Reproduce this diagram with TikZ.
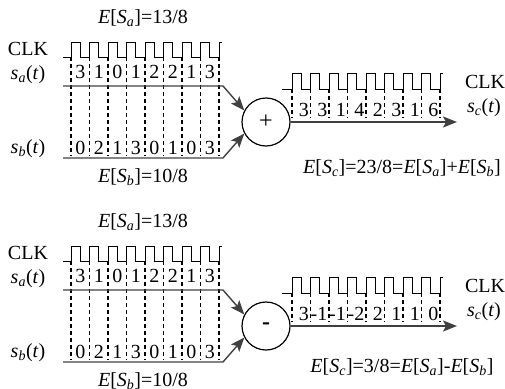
\documentclass[tikz,border=0pt]{standalone}
\usepackage{fontspec}
\setmainfont{Liberation Serif}
\usetikzlibrary{arrows.meta}
\newcommand\sigl[1]{\textit{s}\textsubscript{\textit{#1}}(\textit{t})}
\newcommand\expt[1]{\textit{E}[\textit{S}\textsubscript{\textit{#1}}]}
\newcommand\drawpanel[5]{%
  \node[lbl] (#1clk) at (28,49) {CLK};
  \node[lbl] (#1sa) at (28,75) {\sigl{a}};
  \node[lbl] (#1sb) at (28,149) {\sigl{b}};
  \node[lbl] (#1ea) at (143,18) {\expt{a}=13/8};
  \node[lbl] (#1eb) at (143,177) {\expt{b}=10/8};
  \draw[clk] (63,57) -- (71,57) \foreach \i in {1,...,8}{ -- ++(0,-15) -- ++(9.25,0) -- ++(0,15) -- ++(9.25,0)} -- ++(0,-15) -- ++(3,0);
  \foreach \i in {0,...,8} \draw[grid] ({71+18.5*\i},57) -- ({71+18.5*\i},156);
  \foreach \v [count=\i] in {3,1,0,1,2,2,1,3} \node[lbl] (#1va\i) at ({71+18.5*\i-9.25},72) {\v};
  \foreach \v [count=\i] in {0,2,1,3,0,1,0,3} \node[lbl] (#1vb\i) at ({71+18.5*\i-9.25},148) {\v};
  \node[op] (#1op) at (266,122) {#2};
  \coordinate (#1as) at (63,86);
  \coordinate (#1ab) at (223,86);
  \coordinate (#1bs) at (63,158);
  \coordinate (#1bb) at (223,158);
  \coordinate (#1out) at (457,122);
  \draw[arr] (#1as) -- (#1ab) -- (#1op.152);
  \draw[arr] (#1bs) -- (#1bb) -- (#1op.208);
  \draw[arr] (#1op) -- (#1out);
  \draw[clk] (282,89) -- (292,89) \foreach \i in {1,...,8}{ -- ++(0,-16) -- ++(9.25,0) -- ++(0,16) -- ++(9.25,0)} -- ++(0,-16) -- ++(3,0);
  \foreach \i in {0,...,8} \draw[grid] ({292+18.5*\i},89) -- ({292+18.5*\i},118);
  \foreach \v [count=\i] in {#3} \node[lbl,anchor=east] (#1vc\i) at ({292+18.5*\i-1.5},110) {\v};
  \node[lbl] (#1rclk) at (485,82) {CLK};
  \node[lbl] (#1sc) at (484,108) {\sigl{c}};
  \node[lbl] (#1ec) at (402,#5) {#4};
}
\begin{document}
\begin{tikzpicture}[x=1pt,y=-1pt,font=\fontsize{20}{22}\selectfont,
  wire/.style={draw=black!75,line width=1.4pt},
  arr/.style={wire,-{Stealth[length=14pt,width=11pt,inset=3pt]},fill=none},
  clk/.style={draw=black,line width=1pt},
  grid/.style={draw=black,line width=1.1pt,dash pattern=on 4pt off 3pt},
  op/.style={circle,draw=black,line width=1.2pt,minimum size=48pt,inner sep=0pt,font=\fontsize{24}{26}\selectfont},
  lbl/.style={inner sep=0pt}]
\useasboundingbox (0,0) rectangle (505,388);
\drawpanel{p}{+}{3,3,1,4,2,3,1,6}{\expt{c}=23/8=\expt{a}+\expt{b}}{168}
\begin{scope}[shift={(0,204)}]
\drawpanel{q}{\textbf{-}}{3,-1,-1,-2,2,1,1,0}{\expt{c}=3/8=\expt{a}-\expt{b}}{163}
\end{scope}
\end{tikzpicture}
\end{document}
